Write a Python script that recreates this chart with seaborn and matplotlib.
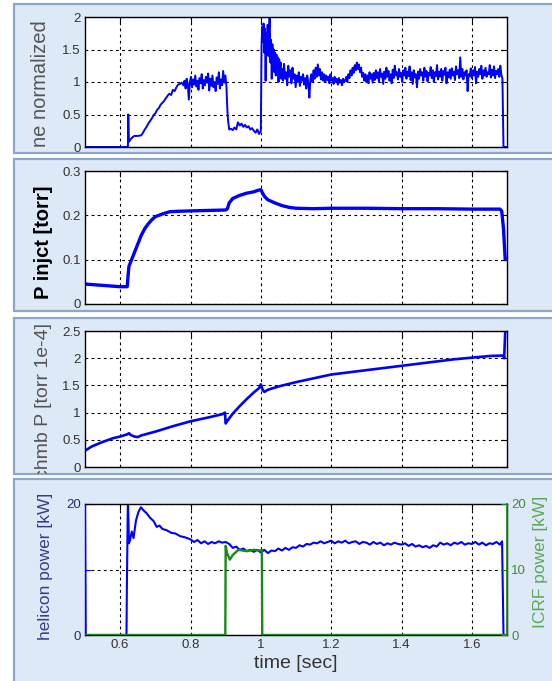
import numpy as np
import pandas as pd
import seaborn as sns
import matplotlib
matplotlib.use("Agg")
import matplotlib.pyplot as plt
from matplotlib.patches import Rectangle

# ---------------- data ----------------
# ne normalized: smooth start, then hand-read noisy segments (evenly sampled in time)
ne_start_t = [0.50, 0.622, 0.623, 0.625, 0.63, 0.635, 0.64, 0.65, 0.66, 0.665, 0.67, 0.675,
              0.68, 0.685, 0.69, 0.695, 0.70, 0.705, 0.71, 0.715, 0.72, 0.725, 0.73, 0.735,
              0.74, 0.745, 0.75, 0.755, 0.76, 0.765, 0.77, 0.775]
ne_start_v = [0.0, 0.0, 0.5, 0.08, 0.12, 0.15, 0.17, 0.17, 0.18, 0.22, 0.27, 0.31,
              0.36, 0.40, 0.44, 0.49, 0.52, 0.57, 0.60, 0.65, 0.68, 0.71, 0.75, 0.79,
              0.82, 0.80, 0.88, 0.86, 0.92, 0.96, 0.97, 0.99]
ne_segA_span = (0.78, 0.902)
ne_segA = [0.95, 1.02, 0.90, 1.05, 0.97, 0.73, 1.00, 1.08, 0.92, 1.04,
           0.96, 1.10, 0.93, 1.02, 0.88, 1.06, 0.98, 1.12, 0.90, 1.03,
           0.95, 1.08, 0.99, 1.13, 0.87, 1.05, 0.94, 1.10, 0.92, 1.00,
           0.86, 1.07, 0.97, 1.15, 0.90, 1.04, 0.95, 1.17, 0.99, 1.10, 0.95]
ne_low_t = [0.905, 0.907, 0.91, 0.915, 0.92, 0.925, 0.93, 0.935, 0.94, 0.945, 0.95, 0.955,
            0.96, 0.965, 0.97, 0.975, 0.98, 0.985, 0.99, 0.995, 1.0]
ne_low_v = [0.55, 0.40, 0.27, 0.28, 0.26, 0.30, 0.27, 0.38, 0.33, 0.36, 0.31, 0.34,
            0.30, 0.32, 0.27, 0.29, 0.25, 0.22, 0.27, 0.20, 0.25]
ne_segB_span = (1.002, 1.058)
ne_segB = [1.55, 1.85, 1.62, 1.90, 1.45, 1.82, 1.02, 1.75, 1.50, 1.88,
           1.40, 1.78, 2.05, 1.30, 1.65, 1.05, 1.58, 1.25, 1.50, 1.15,
           1.45, 1.10, 1.42, 1.20, 1.38, 1.00, 1.35, 1.15, 1.30, 1.05]
ne_segC_span = (1.06, 1.687)
ne_segC = [1.20, 1.02, 1.28, 1.05, 1.15, 0.95, 1.25, 1.08, 1.18, 0.98,
           1.22, 1.05, 1.12, 0.92, 1.10, 1.00, 1.15, 0.94, 1.08, 1.02,
           1.12, 0.96, 1.06, 0.90, 1.10, 0.98, 0.76, 1.05, 1.12, 1.00,
           1.18, 1.05, 1.22, 1.08, 1.27, 1.10, 1.20, 1.04, 1.15, 1.02,
           1.12, 1.00, 1.10, 1.03, 1.08, 0.98, 1.12, 1.02, 1.06, 0.97,
           1.08, 1.00, 1.05, 0.96, 1.06, 0.99, 1.03, 0.95, 1.05, 1.00,
           1.02, 1.08, 1.00, 1.12, 1.06, 1.18, 1.10, 1.22, 1.14, 1.26,
           1.18, 1.30, 1.20, 1.27, 1.15, 1.22, 1.08, 1.14, 1.02, 1.12,
           1.00, 1.10, 0.98, 1.15, 1.05, 1.12, 0.99, 1.14, 1.03, 1.18,
           1.06, 1.15, 1.00, 1.20, 1.08, 1.13, 0.97, 1.16, 1.05, 1.22,
           1.08, 1.17, 1.02, 1.12, 0.98, 1.19, 1.06, 1.25, 1.10, 1.15,
           1.04, 1.20, 1.08, 1.14, 1.00, 1.18, 1.10, 1.22, 1.05, 1.16,
           1.09, 1.24, 1.03, 1.15, 0.97, 1.18, 1.07, 1.12, 0.92, 1.16,
           1.05, 1.20, 1.10, 1.15, 1.02, 1.22, 1.08, 1.17, 1.01, 1.14,
           1.10, 1.23, 1.06, 1.18, 1.00, 1.15, 1.09, 1.26, 1.04, 1.16,
           1.08, 1.20, 1.02, 1.17, 1.11, 1.22, 0.98, 1.15, 1.07, 1.19,
           1.05, 1.21, 1.10, 1.16, 1.03, 1.24, 1.12, 1.18, 1.06, 1.38,
           1.08, 1.20, 1.04, 1.15, 1.10, 1.18, 0.86, 1.12, 1.09, 1.21,
           1.06, 1.18, 1.10, 1.23, 0.98, 1.16, 1.08, 1.20, 1.12, 1.25,
           1.05, 1.18, 1.10, 1.22, 1.08, 1.15, 1.12, 1.26, 1.07, 1.19,
           1.10, 1.24, 1.06, 1.17, 1.12, 1.20, 1.08, 1.25, 1.11, 1.05]
ne_end_t = [1.69, 1.70]
ne_end_v = [0.0, 0.0]

pinj_t = [0.50, 0.55, 0.60, 0.62, 0.622, 0.625, 0.63, 0.64, 0.65, 0.66, 0.67, 0.68, 0.69, 0.70,
          0.72, 0.74, 0.76, 0.80, 0.85, 0.90, 0.905, 0.91, 0.92, 0.94, 0.96, 0.98, 0.99, 1.0,
          1.005, 1.01, 1.02, 1.04, 1.06, 1.08, 1.10, 1.15, 1.20, 1.30, 1.40, 1.50, 1.60, 1.68,
          1.685, 1.69, 1.695]
pinj_v = [0.045, 0.042, 0.039, 0.039, 0.06, 0.085, 0.095, 0.115, 0.135, 0.155, 0.170, 0.181,
          0.190, 0.197, 0.203, 0.208, 0.209, 0.210, 0.211, 0.212, 0.215, 0.228, 0.238, 0.245,
          0.250, 0.253, 0.256, 0.258, 0.250, 0.243, 0.235, 0.228, 0.222, 0.218, 0.216, 0.215,
          0.216, 0.216, 0.215, 0.215, 0.214, 0.214, 0.210, 0.170, 0.100]

chmb_t = [0.50, 0.52, 0.55, 0.58, 0.60, 0.62, 0.625, 0.63, 0.64, 0.65, 0.66, 0.70, 0.75, 0.80,
          0.85, 0.89, 0.898, 0.90, 0.905, 0.92, 0.94, 0.96, 0.98, 0.995, 1.0, 1.005, 1.01, 1.02,
          1.05, 1.10, 1.15, 1.20, 1.25, 1.30, 1.35, 1.40, 1.45, 1.50, 1.55, 1.60, 1.65, 1.69,
          1.692, 1.695]
chmb_v = [0.30, 0.38, 0.46, 0.53, 0.56, 0.60, 0.62, 0.59, 0.56, 0.55, 0.58, 0.65, 0.75, 0.84,
          0.91, 0.97, 1.00, 0.80, 0.85, 0.98, 1.12, 1.25, 1.37, 1.45, 1.52, 1.42, 1.38, 1.42,
          1.48, 1.56, 1.63, 1.70, 1.74, 1.78, 1.82, 1.86, 1.90, 1.94, 1.98, 2.01, 2.04, 2.05,
          2.00, 2.50]

heli_start_t = [0.50, 0.502, 0.618, 0.619, 0.622, 0.625, 0.628, 0.633, 0.638, 0.645, 0.652,
                0.659, 0.667, 0.675, 0.685, 0.695, 0.704, 0.712, 0.72, 0.732, 0.745, 0.757,
                0.770, 0.785]
heli_start_v = [21.0, 0.0, 0.0, 7.0, 21.0, 14.0, 14.5, 15.8, 14.8, 17.5, 18.8,
                19.5, 19.0, 18.6, 17.9, 17.4, 16.5, 16.7, 16.2, 16.0, 15.6, 15.5,
                15.1, 14.9]
heli_seg_span = (0.80, 1.68)
heli_seg = [14.6, 14.2, 14.5, 14.0, 14.3, 13.9, 14.2, 14.0, 14.3, 14.1,
            14.2, 13.9, 13.3, 13.5, 13.0, 13.2, 12.8, 13.0, 12.7, 13.0,
            12.6, 13.0, 12.5, 12.9, 12.8, 13.2, 12.9, 13.3, 13.0, 13.4,
            13.3, 13.7, 13.5, 13.9, 13.8, 14.1, 14.0, 14.3, 14.0, 14.2,
            14.4, 14.0, 14.3, 14.1, 14.4, 14.0, 14.2, 14.3, 13.9, 14.2,
            14.1, 13.8, 14.2, 13.9, 14.1, 13.7, 14.0, 13.8, 14.1, 13.9,
            13.8, 14.0, 13.6, 13.9, 13.5, 13.7, 13.4, 13.6, 13.3, 13.7,
            13.5, 14.1, 13.8, 14.0, 13.7, 14.1, 13.9, 14.2, 13.8, 14.0,
            13.9, 14.2, 13.8, 14.1, 13.7, 14.0, 13.9, 14.2, 13.8]
heli_end_t = [1.686, 1.69, 1.70]
heli_end_v = [14.3, 0.0, 0.0]

icrf_t = [0.50, 0.899, 0.900, 0.904, 0.912, 0.920, 0.936, 0.96, 0.98, 1.0, 1.003, 1.004, 1.70]
icrf_v = [0.0, 0.0, 13.6, 12.5, 11.5, 12.2, 13.0, 12.8, 13.0, 12.9, 13.0, 0.0, 0.0]

xticks = [0.6, 0.8, 1.0, 1.2, 1.4, 1.6]
xtick_labels = ["0.6", "0.8", "1", "1.2", "1.4", "1.6"]


def seg_times(span, vals):
    return list(np.linspace(span[0], span[1], len(vals)))


ne_t = (ne_start_t + seg_times(ne_segA_span, ne_segA) + ne_low_t +
        seg_times(ne_segB_span, ne_segB) + seg_times(ne_segC_span, ne_segC) + ne_end_t)
ne_v = ne_start_v + ne_segA + ne_low_v + ne_segB + ne_segC + ne_end_v
heli_t = heli_start_t + seg_times(heli_seg_span, heli_seg) + heli_end_t
heli_v = heli_start_v + heli_seg + heli_end_v

# ---------------- figure ----------------
sns.set_style("white")
plt.rcParams['font.family'] = ['Liberation Sans', 'DejaVu Sans']
W, H = 552, 681
fig = plt.figure(figsize=(W / 100, H / 100), dpi=100)
fig.patch.set_facecolor("white")

BOX_FC = "#dde9f7"
BOX_EC = "#8ea7c9"
BLUE = "#0000ff"
GREEN = "#178a17"
GRID_LS = (0, (2.5, 3.0))


def fbox(x0, y0, x1, y1):
    return [x0 / W, 1 - y1 / H, (x1 - x0) / W, (y1 - y0) / H]


panel_boxes = [(14, 4, 560, 153), (14, 159, 560, 311), (14, 318, 560, 474), (14, 479, 560, 690)]
axes_boxes = [(85, 17, 507, 147), (85, 171, 507, 304), (85, 331, 507, 467), (85, 504, 507, 635)]

patches = []
for (x0, y0, x1, y1) in panel_boxes:
    r = Rectangle((x0 / W, 1 - y1 / H), (x1 - x0) / W, (y1 - y0) / H, transform=fig.transFigure,
                  facecolor=BOX_FC, edgecolor=BOX_EC, linewidth=1.6, zorder=-10)
    fig.add_artist(r)
    patches.append(r)


def style_axes(ax, ylim, yticks, ylabels, show_x=False):
    ax.set_xlim(0.5, 1.7)
    ax.set_ylim(*ylim)
    ax.set_xticks(xticks)
    ax.set_yticks(yticks)
    ax.set_yticklabels(ylabels)
    if show_x:
        ax.set_xticklabels(xtick_labels)
    else:
        ax.set_xticklabels([])
    ax.set_facecolor("white")
    for s in ax.spines.values():
        s.set_color("black")
        s.set_linewidth(1.0)
        s.set_visible(True)
    ax.tick_params(direction="in", length=4, width=0.8, top=True, right=True,
                   labelsize=9.5, colors="black", pad=3)
    ax.tick_params(axis="both", labelcolor="#333333")
    ax.grid(True, color="black", linestyle=GRID_LS, linewidth=0.8)
    ax.set_xlabel("")
    ax.set_ylabel("")


def clip_ticklabels(ax, patch):
    for lab in ax.get_yticklabels() + ax.get_xticklabels():
        lab.set_clip_path(patch)


# Panel 1
ax1 = fig.add_axes(fbox(*axes_boxes[0]))
sns.lineplot(x=ne_t, y=ne_v, ax=ax1, color=BLUE, linewidth=1.4, estimator=None, sort=False)
style_axes(ax1, (0, 2), [0, 0.5, 1, 1.5, 2], ["0", "0.5", "1", "1.5", "2"])

# Panel 2
ax2 = fig.add_axes(fbox(*axes_boxes[1]))
sns.lineplot(x=pinj_t, y=pinj_v, ax=ax2, color=BLUE, linewidth=2.4, estimator=None, sort=False)
style_axes(ax2, (0, 0.3), [0, 0.1, 0.2, 0.3], ["0", "0.1", "0.2", "0.3"])

# Panel 3
ax3 = fig.add_axes(fbox(*axes_boxes[2]))
sns.lineplot(x=chmb_t, y=chmb_v, ax=ax3, color=BLUE, linewidth=1.9, estimator=None, sort=False)
style_axes(ax3, (0, 2.5), [0, 0.5, 1, 1.5, 2, 2.5], ["0", "0.5", "1", "1.5", "2", "2.5"])

# Panel 4
ax4 = fig.add_axes(fbox(*axes_boxes[3]))
sns.lineplot(x=heli_t, y=heli_v, ax=ax4, color=BLUE, linewidth=1.5, estimator=None, sort=False)
style_axes(ax4, (0, 20), [0, 10, 20], ["0", "", "20"], show_x=True)
ax4.tick_params(right=False)
ax4.spines["left"].set_color(BLUE)
ax4.tick_params(axis="y", colors=BLUE, labelcolor="#2a2a6a")
ax4.tick_params(axis="x", labelcolor="#333333")
ax5 = ax4.twinx()
sns.lineplot(x=icrf_t, y=icrf_v, ax=ax5, color=GREEN, linewidth=1.7, estimator=None, sort=False)
ax5.set_ylim(0, 20)
ax5.set_yticks([0, 10, 20])
ax5.set_yticklabels(["0", "10", "20"])
ax5.set_ylabel("")
ax5.set_xlim(0.5, 1.7)
ax5.tick_params(axis="y", direction="in", length=4, width=0.8, colors=GREEN,
                labelcolor="#3c8c3c", labelsize=9.5, pad=3)
for k, s in ax5.spines.items():
    s.set_visible(k == "right")
ax5.spines["right"].set_color(GREEN)
ax5.spines["right"].set_linewidth(1.2)
ax5.grid(False)

for ax, p in zip([ax1, ax2, ax3, ax4], patches):
    clip_ticklabels(ax, p)


def ylabel(x, yc, s, patch, **kw):
    t = fig.text(x / W, 1 - yc / H, s, rotation=90, ha="center", va="center", **kw)
    t.set_clip_path(patch)
    return t


ylabel(40, 84, "ne normalized", patches[0], fontsize=14.5, color="#555555")
ylabel(44, 242, "P injct [torr]", patches[1], fontsize=14.5, color="black", fontweight="bold")
ylabel(44, 401, "chmb P [torr 1e-4]", patches[2], fontsize=14, color="#555555")
ylabel(46, 566, "helicon power [kW]", patches[3], fontsize=12.5, color="#3a3a8a")
ylabel(540, 562, "ICRF power [kW]", patches[3], fontsize=12.5, color="#5aa85a")
fig.text(296 / W, 1 - 663 / H, "time [sec]", ha="center", va="center", fontsize=14, color="#333333")

fig.savefig("out.png", dpi=100)
